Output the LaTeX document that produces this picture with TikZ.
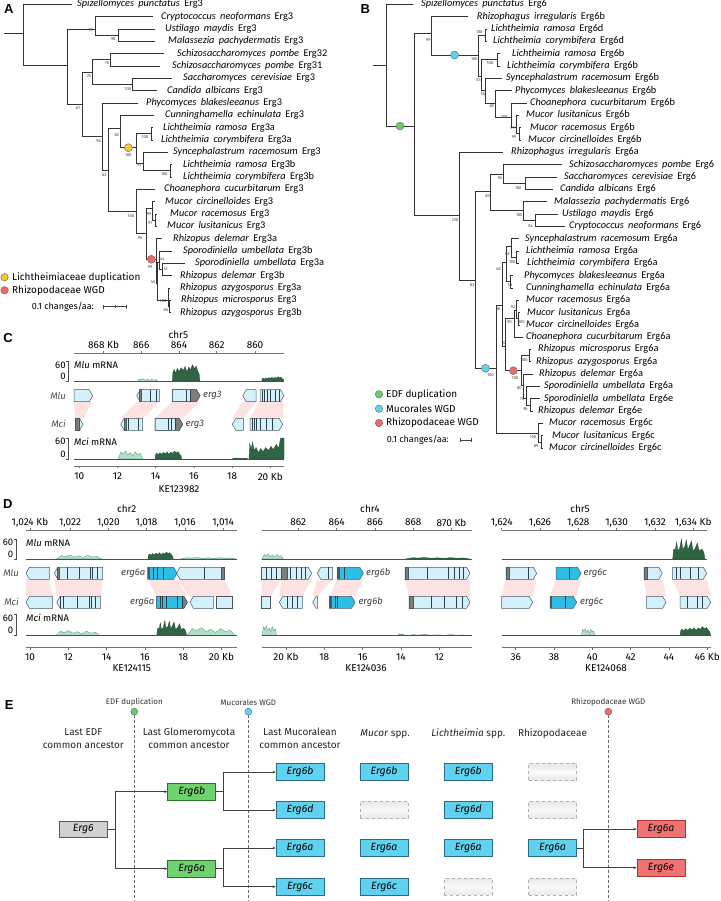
\documentclass[tikz,border=0pt]{standalone}
\usepackage{fontspec}
\setmainfont{Fira Sans}
\newfontfamily\treefont{Carlito}
\newfontfamily\panelfont{Liberation Sans}
\usetikzlibrary{calc, positioning, arrows.meta}

\definecolor{genefill}{RGB}{212,240,250}
\definecolor{genedraw}{RGB}{70,90,100}
\definecolor{geneblue}{RGB}{45,190,230}
\definecolor{genegray}{RGB}{125,125,125}
\definecolor{rnadark}{RGB}{48,100,68}
\definecolor{rnalight}{RGB}{178,222,202}
\definecolor{rnaline}{RGB}{95,150,120}
\definecolor{syntpink}{RGB}{253,226,226}
\definecolor{dupyellow}{RGB}{246,200,45}
\definecolor{dupred}{RGB}{240,105,105}
\definecolor{dupgreen}{RGB}{110,200,110}
\definecolor{dupblue}{RGB}{95,210,240}
\definecolor{boxcyan}{RGB}{95,210,240}
\definecolor{boxcyand}{RGB}{40,110,135}
\definecolor{boxgreen}{RGB}{110,210,110}
\definecolor{boxgreend}{RGB}{45,115,45}
\definecolor{boxred}{RGB}{240,115,115}
\definecolor{boxredd}{RGB}{175,50,50}

% gene arrows: [style] start, end, row y
\newcommand{\geneR}[4][genebody]{\filldraw[#1] (#2,#4-6) -- (#3-3.5,#4-6) -- (#3,#4) -- (#3-3.5,#4+6) -- (#2,#4+6) -- cycle;}
\newcommand{\geneL}[4][genebody]{\filldraw[#1] (#2+3.5,#4-6) -- (#3,#4-6) -- (#3,#4+6) -- (#2+3.5,#4+6) -- (#2,#4) -- cycle;}
% right gene with a gray tail from #5
\newcommand{\geneRg}[5][genebody]{%
  \geneR[#1]{#2}{#3}{#4}
  \begin{scope}
    \clip (#2,#4-6) -- (#3-3.5,#4-6) -- (#3,#4) -- (#3-3.5,#4+6) -- (#2,#4+6) -- cycle;
    \fill[genegray] (#5,#4-7) rectangle (#3+1,#4+7);
  \end{scope}
  \draw[genedraw, line width=0.5pt] (#2,#4-6) -- (#3-3.5,#4-6) -- (#3,#4) -- (#3-3.5,#4+6) -- (#2,#4+6) -- cycle;
  \draw[exon] (#5,#4-6) -- (#5,#4+6);}
\newcommand{\exons}[2]{\foreach \ux in {#2}{\draw[exon] (\ux,#1-6) -- (\ux,#1+6);}}
\newcommand{\gseg}[3]{\filldraw[genegrayseg] (#2,#1-6) rectangle (#3,#1+6);}
\newcommand{\dseg}[3]{\fill[genedraw] (#2,#1-6) rectangle (#3,#1+6);}
\newcommand{\synband}[6]{\fill[synt] (#1,#5) -- (#2,#5) -- (#4,#6) -- (#3,#6) -- cycle;}
% read coverage: start, end, base y, height, style
\newcommand{\covPlateau}[5]{\begin{scope}[shift={(#1,#3)},xscale={#2-#1},yscale={#4}]
  \filldraw[#5] (0,0) -- (0.02,-0.55) -- (0.07,-0.72) -- (0.12,-0.5) -- (0.18,-0.78) -- (0.25,-0.6) -- (0.32,-0.82) -- (0.4,-0.66) -- (0.46,-0.9) -- (0.52,-0.58) -- (0.6,-0.86) -- (0.66,-0.7) -- (0.73,-1) -- (0.8,-0.76) -- (0.86,-0.92) -- (0.92,-0.62) -- (0.97,-0.45) -- (1,0) -- cycle;
  \end{scope}}
\newcommand{\covHumps}[5]{\begin{scope}[shift={(#1,#3)},xscale={#2-#1},yscale={#4}]
  \filldraw[#5] (0,0) -- (0.05,-0.3) -- (0.12,-0.9) -- (0.2,-0.6) -- (0.3,-1) -- (0.4,-0.5) -- (0.5,-0.8) -- (0.6,-0.4) -- (0.7,-0.9) -- (0.8,-0.5) -- (0.9,-0.7) -- (1,0) -- cycle;
  \end{scope}}
\newcommand{\covSpikes}[5]{\begin{scope}[shift={(#1,#3)},xscale={#2-#1},yscale={#4}]
  \filldraw[#5] (0,0) -- (0.03,-0.5) -- (0.08,-0.45) -- (0.12,-0.85) -- (0.16,-0.4) -- (0.22,-0.55) -- (0.27,-1) -- (0.31,-0.5) -- (0.37,-0.6) -- (0.42,-0.95) -- (0.47,-0.45) -- (0.53,-0.7) -- (0.58,-0.9) -- (0.63,-0.4) -- (0.7,-0.55) -- (0.76,-0.8) -- (0.82,-0.4) -- (0.9,-0.5) -- (0.96,-0.35) -- (1,0) -- cycle;
  \end{scope}}
\newcommand{\covRise}[5]{\begin{scope}[shift={(#1,#3)},xscale={#2-#1},yscale={#4}]
  \filldraw[#5] (0,0) -- (0.02,-0.75) -- (0.06,-0.45) -- (0.1,-0.8) -- (0.15,-0.4) -- (0.2,-0.55) -- (0.27,-0.3) -- (0.33,-0.5) -- (0.4,-0.35) -- (0.48,-0.55) -- (0.55,-0.4) -- (0.63,-0.6) -- (0.7,-0.45) -- (0.78,-0.7) -- (0.85,-0.5) -- (0.9,-1) -- (1,-1) -- (1,0) -- cycle;
  \end{scope}}
% "60 ]" read scale: x, top, bottom
\newcommand{\rnascale}[3]{%
  \draw[scalebr] (#1-2,#2) -- (#1,#2) -- (#1,#3) -- (#1-2,#3);
  \node[numlab, anchor=east] at (#1-2.5,#2+3.6) {60};
  \node[numlab, anchor=east] at (#1-2.5,#3-5) {0};}
% tree tip text with wider word gaps
\newcommand{\tiptext}[2]{\spaceskip=0.42em plus 0.1em\relax\textit{#1} #2}

\begin{document}
\begin{tikzpicture}[x=1pt, y=-1pt,
    branch/.style={draw=black!80, line width=0.75pt},
    tiplab/.style={anchor=west, inner sep=0pt, text height=6.8pt, text depth=1.9pt,
      font=\treefont\fontsize{10.3}{11}\selectfont},
    boot/.style={inner sep=0pt, font=\fontsize{4.2}{5}\selectfont, text=black!75},
    dupdot/.style={circle, draw=black!60, line width=0.4pt, minimum size=8pt, inner sep=0pt, fill=#1},
    legtxt/.style={anchor=west, inner sep=0pt, font=\fontsize{10}{12}\selectfont},
    scaletxt/.style={anchor=west, inner sep=0pt, font=\fontsize{9}{11}\selectfont},
    scalebar/.style={draw=black!75, line width=0.5pt, {Bar[width=4pt]}-{Bar[width=4pt]}},
    panel/.style={inner sep=0pt, font=\panelfont\bfseries\fontsize{13}{13}\selectfont},
    axis/.style={draw=black!55, line width=0.6pt},
    axlab/.style={inner sep=0pt, font=\fontsize{10}{12}\selectfont},
    numlab/.style={inner sep=0pt, font=\fontsize{9.5}{11}\selectfont},
    tracklab/.style={anchor=west, inner sep=0pt, font=\fontsize{9.5}{11}\selectfont},
    rowlab/.style={anchor=east, inner sep=0pt, font=\itshape\fontsize{9.5}{11}\selectfont, text=black!70},
    genelab/.style={inner sep=0pt, font=\itshape\fontsize{9.5}{11}\selectfont, text=black!75},
    genebody/.style={fill=genefill, draw=genedraw, line width=0.5pt},
    geneerg/.style={fill=geneblue, draw=genedraw, line width=0.5pt},
    genegrayseg/.style={fill=genegray, draw=genedraw, line width=0.5pt},
    exon/.style={draw=genedraw!70!black, line width=0.7pt},
    synt/.style={fill=syntpink},
    rnaD/.style={fill=rnadark, draw=rnadark!80!black, line width=0.3pt},
    rnaL/.style={fill=rnalight, draw=rnaline, line width=0.3pt},
    baseline/.style={draw=black!70, line width=0.5pt},
    scalebr/.style={draw=black!70, line width=0.5pt},
    evlab/.style={inner sep=0pt, font=\fontsize{8}{9}\selectfont, text=black!80},
    evline/.style={draw=black!60, dash pattern=on 3pt off 2pt, line width=0.5pt},
    hdr/.style={align=center, inner sep=0pt, font=\fontsize{10}{13.3}\selectfont, text=black!85},
    ebox/.style={minimum width=48pt, minimum height=16.5pt, inner sep=0pt, line width=0.6pt,
      font=\itshape\fontsize{10.5}{12}\selectfont},
    boxgray/.style={ebox, fill=black!18, draw=black!65},
    boxgreen/.style={ebox, fill=boxgreen, draw=boxgreend},
    boxcyan/.style={ebox, fill=boxcyan, draw=boxcyand},
    boxred/.style={ebox, fill=boxred, draw=boxredd},
    boxnone/.style={ebox, draw=black!30, dashed, top color=black!9, bottom color=black!9, middle color=black!2},
    conn/.style={draw=black!75, line width=0.6pt},
    arr/.style={conn, -{Stealth[length=3.2pt,width=2.6pt]}}
  ]
  \useasboundingbox (0,0) rectangle (720,901);
  \fill[white] (0,0) rectangle (720,901);

  % ================= A: Erg3 tree =================
  \node[panel] (labA) at (8.7,9.2) {A};
  \foreach \n/\tx/\lx/\r/\spc/\gnm in {
      a0/71.7/77/0/Spizellomyces punctatus/Erg3,
      a1/153/161/1/Cryptococcus neoformans/Erg3,
      a2/155/165/2/Ustilago maydis/Erg3,
      a3/155/168/3/Malassezia pachydermatis/Erg3,
      a4/164/177/4/Schizosaccharomyces pombe/Erg32,
      a5/160/172/5/Schizosaccharomyces pombe/Erg31,
      a6/172/183/6/Saccharomyces cerevisiae/Erg3,
      a7/157/167/7/Candida albicans/Erg3,
      a8/138/146/8/Phycomyces blakesleeanus/Erg3,
      a9/154/165/9/Cunninghamella echinulata/Erg3,
      a10/153/163/10/Lichtheimia ramosa/Erg3a,
      a11/153/161/11/Lichtheimia corymbifera/Erg3a,
      a12/168/173/12/Syncephalastrum racemosum/Erg3,
      a13/172/183/13/Lichtheimia ramosa/Erg3b,
      a14/172/183/14/Lichtheimia corymbifera/Erg3b,
      a15/155/164/15/Choanephora cucurbitarum/Erg3,
      a16/155/165/16/Mucor circinelloides/Erg3,
      a17/157/170/17/Mucor racemosus/Erg3,
      a18/157/167/18/Mucor lusitanicus/Erg3,
      a19/162/173/19/Rhizopus delemar/Erg3a,
      a20/172/183/20/Sporodiniella umbellata/Erg3b,
      a21/185/195/21/Sporodiniella umbellata/Erg3a,
      a22/172/180/22/Rhizopus delemar/Erg3b,
      a23/170/180/23/Rhizopus azygosporus/Erg3a,
      a24/171/181/24/Rhizopus microsporus/Erg3,
      a25/171/180/25/Rhizopus azygosporus/Erg3b}{
    \coordinate (\n) at (\tx,{4.3+12.33*\r});
    \node[tiplab] (\n-lab) at (\lx,{4.3+12.33*\r}) {\tiptext{\spc}{\gnm}};
  }
  \foreach \n/\x/\y in {r0/23/33.3, n1/67.7/65, n2/95/29, n2b/118/35.1, n3/82/104,
      n4/92/72, n4a/110/59.8, n4b/132/84.4, n5/102/136.7, n6/108.7/170, n7/120/128.3,
      n8/136.7/147.7, n9/151/133.8, n10/143.3/163, n10b/170/170.8, n11/136.7/211.7,
      n12/146.7/233, n13/152.7/208, n13b/155/220.1, r1/156/259.3, r2/157.7/283,
      r3/159.3/262, r4/162/269.4, r5/168/300, r6/169.5/306.4}
    \coordinate (\n) at (\x,\y);
  \coordinate (rootA) at (4,33.3);
  \draw[branch] (rootA) -- (r0);
  \foreach \pa/\ch in {r0/a0, r0/n1, n1/n2, n1/n3, n2/a1, n2/n2b, n2b/a2, n2b/a3,
      n3/n4, n3/n5, n4/n4a, n4/n4b, n4a/a4, n4a/a5, n4b/a6, n4b/a7, n5/a8, n5/n6,
      n6/n7, n6/n11, n7/a9, n7/n8, n8/n9, n8/n10, n9/a10, n9/a11, n10/a12, n10/n10b,
      n10b/a13, n10b/a14, n11/a15, n11/n12, n12/n13, n12/r1, n13/a16, n13/n13b,
      n13b/a17, n13b/a18, r1/a19, r1/r2, r2/r3, r2/r5, r3/a20, r3/r4, r4/a21, r4/a22,
      r5/a23, r5/r6, r6/a24, r6/a25}
    \draw[branch] (\pa) |- (\ch);
  \foreach \x/\y/\v in {90.7/30.5/99, 113.3/39/98, 107/63/76, 89/76/75, 128/89/100,
      78/108.3/61, 98.7/141/96, 116.7/135/82, 128.3/155/100, 145/137/100, 104.3/175/62,
      139.3/165/91, 164.3/174.3/100, 131/216/100, 149/214/99, 150/223/91, 140/238/95,
      150/267/99, 162.3/259.3/44, 165.7/269/41, 153/282/45, 163/301/100, 166/310/86}
    \node[boot] at (\x,\y) {\v};
  \node[dupdot=dupyellow] (dupLich) at ($(n7 |- n8)!0.5!(n8)$) {};
  \node[dupdot=dupred] (wgdRhiA) at ($(n12 |- r1)!0.5!(r1)$) {};
  % legend A
  \node[dupdot=dupyellow, minimum size=7.5pt] (legA1) at (4.5,277.3) {};
  \node[legtxt, right=3.5pt of legA1] {Lichtheimiaceae duplication};
  \node[dupdot=dupred, minimum size=7.5pt] (legA2) at (4.5,290.3) {};
  \node[legtxt, right=3.5pt of legA2] {Rhizopodaceae WGD};
  \node[scaletxt] at (31.7,306.7) {0.1 changes/aa:};
  \coordinate (sbA1) at (103.3,306.7);
  \coordinate (sbA2) at (126.7,306.7);
  \draw[scalebar] (sbA1) -- (sbA2);
  \draw[scalebr] ($(sbA1)!0.5!(sbA2)+(0,-1.5)$) -- ++(0,3);

  % ================= B: Erg6 tree =================
  \node[panel] (labB) at (365.3,8.8) {B};
  \foreach \n/\tx/\lx/\r/\spc/\gnm in {
      b0/413.3/421/0/Spizellomyces punctatus/Erg6,
      b1/468.3/476.7/1/Rhizophagus irregularis/Erg6b,
      b2/487/491/2/Lichtheimia ramosa/Erg6d,
      b3/487/493/3/Lichtheimia corymbifera/Erg6d,
      b4/500/512/4/Lichtheimia ramosa/Erg6b,
      b5/500/507/5/Lichtheimia corymbifera/Erg6b,
      b6/501.7/506/6/Syncephalastrum racemosum/Erg6b,
      b7/511.7/515/7/Phycomyces blakesleeanus/Erg6b,
      b8/526.7/530/8/Choanephora cucurbitarum/Erg6b,
      b9/519/526/9/Mucor lusitanicus/Erg6b,
      b10/521/530/10/Mucor racemosus/Erg6b,
      b11/521/528/11/Mucor circinelloides/Erg6b,
      b12/503.3/511/12/Rhizophagus irregularis/Erg6a,
      b13/561.7/569/13/Schizosaccharomyces pombe/Erg6,
      b14/556.7/564/14/Saccharomyces cerevisiae/Erg6,
      b15/553/560/15/Candida albicans/Erg6,
      b16/546.7/554/16/Malassezia pachydermatis/Erg6,
      b17/558.3/562/17/Ustilago maydis/Erg6,
      b18/565/569/18/Cryptococcus neoformans/Erg6,
      b19/519.3/525/19/Syncephalastrum racemosum/Erg6a,
      b20/518.5/526/20/Lichtheimia ramosa/Erg6a,
      b21/518.5/527/21/Lichtheimia corymbifera/Erg6a,
      b22/513.3/524/22/Phycomyces blakesleeanus/Erg6a,
      b23/513.3/526/23/Cunninghamella echinulata/Erg6a,
      b24/519/526/24/Mucor racemosus/Erg6a,
      b25/520/527/25/Mucor lusitanicus/Erg6a,
      b26/520/526/26/Mucor circinelloides/Erg6a,
      b27/523.3/526/27/Choanephora cucurbitarum/Erg6a,
      b28/531/538/28/Rhizopus microsporus/Erg6a,
      b29/531/536/29/Rhizopus azygosporus/Erg6a,
      b30/532.7/539/30/Rhizopus delemar/Erg6a,
      b31/540/544/31/Sporodiniella umbellata/Erg6a,
      b32/540/544/32/Sporodiniella umbellata/Erg6e,
      b33/532.7/538/33/Rhizopus delemar/Erg6e,
      b34/542.7/549/34/Mucor racemosus/Erg6c,
      b35/543.3/552/35/Mucor lusitanicus/Erg6c,
      b36/543.3/549/36/Mucor circinelloides/Erg6c}{
    \coordinate (\n) at (\tx,{4.3+12.33*\r});
    \node[tiplab] (\n-lab) at (\lx,{4.3+12.33*\r}) {\tiptext{\spc}{\gnm}};
  }
  \foreach \n/\x/\y in {qroot/386/65, qedf/414/126, qm1/431/33.3, qwb/478.3/55,
      qd/485/35.1, qc1/481/76, qlb/497.3/59.8, qc2/485/90, qc3/495/103, qc4/511.7/117,
      qc5/516/127, qc6/519/133.8, qg6/459.3/215.7, qg7/475/280, qdk/490/191.7,
      qyy/503.3/174, qsc/525/183.1, qbs/523/210, quc/535/220.1, qwa/496/368.3,
      qa6/502.7/305, qlc/506.7/262, qsl/511/246.7, qlr/516/257.1, qpc/510/281.7,
      qmc/505.7/346.7, qmu/514/318, qmm/516.7/310, qmm2/518.5/318.7, qrz/521/370.7,
      qrm/529/355.7, qrq/523/385, qrs/526/398, qrs2/530/405, qcc/538/433, qcc2/541.7/442}
    \coordinate (\n) at (\x,\y);
  \coordinate (rootB) at (373,65);
  \draw[branch] (rootB) -- (qroot);
  \foreach \pa/\ch in {qroot/b0, qroot/qedf, qedf/qm1, qedf/qg6, qm1/b1, qm1/qwb,
      qwb/qd, qwb/qc1, qd/b2, qd/b3, qc1/qlb, qc1/qc2, qlb/b4, qlb/b5, qc2/b6, qc2/qc3,
      qc3/b7, qc3/qc4, qc4/b8, qc4/qc5, qc5/b9, qc5/qc6, qc6/b10, qc6/b11, qg6/b12,
      qg6/qg7, qg7/qdk, qg7/qwa, qdk/qyy, qdk/qbs, qyy/b13, qyy/qsc, qsc/b14, qsc/b15,
      qbs/b16, qbs/quc, quc/b17, quc/b18, qwa/qa6, qwa/qcc, qa6/qlc, qa6/qmc, qlc/qsl,
      qlc/qpc, qsl/b19, qsl/qlr, qlr/b20, qlr/b21, qpc/b22, qpc/b23, qmc/qmu, qmc/qrz,
      qmu/qmm, qmu/b27, qmm/b24, qmm/qmm2, qmm2/b25, qmm2/b26, qrz/qrm, qrz/qrq,
      qrm/b28, qrm/b29, qrq/b30, qrq/qrs, qrs/b31, qrs/qrs2, qrs2/b32, qrs2/b33,
      qcc/b34, qcc/qcc2, qcc2/b35, qcc2/b36}
    \draw[branch] (\pa) |- (\ch);
  \foreach \x/\y/\v in {428.3/40/99, 474.3/59.5/100, 479.3/32/100, 490/63.3/100,
      478.5/80/55, 483/94/55, 491.7/106.5/69, 504.3/117.3/100, 512.5/128.5/99,
      514/136.7/99, 455/220/100, 472/285/83, 487.5/196.5/89, 500/178.3/94,
      518.3/187.7/100, 519.3/215/100, 530.7/226/84, 507.3/254/98, 512.3/262.3/100,
      498.3/269/48, 510/285/58, 498/309/96, 513/307/92, 521.5/322/100, 509.5/322/90,
      504/343/92, 524.3/360/100, 515/378/100, 519.5/388.5/80, 522.3/399.3/70,
      525.5/409/96, 533/437/100, 536/446/89, 490.5/375/100}
    \node[boot] at (\x,\y) {\v};
  \node[dupdot=dupgreen] (dupEDF) at ($(qroot |- qedf)!0.5!(qedf)$) {};
  \node[dupdot=dupblue] (wgdMucB) at ($(qm1 |- qwb)!0.5!(qwb)$) {};
  \node[dupdot=dupblue] (wgdMucA) at ($(qg7 |- qwa)!0.5!(qwa)$) {};
  \node[dupdot=dupred] (wgdRhiB) at ($(qmc |- qrz)!0.5!(qrz)$) {};
  % legend B
  \node[dupdot=dupgreen, minimum size=7.5pt] (legB1) at (379,394.3) {};
  \node[legtxt, right=3pt of legB1] {EDF duplication};
  \node[dupdot=dupblue, minimum size=7.5pt] (legB2) at (379,408.7) {};
  \node[legtxt, right=3pt of legB2] {Mucorales WGD};
  \node[dupdot=dupred, minimum size=7.5pt] (legB3) at (379,423) {};
  \node[legtxt, right=3pt of legB3] {Rhizopodaceae WGD};
  \node[scaletxt] at (386.7,440) {0.1 changes/aa:};
  \coordinate (sbB1) at (460,440);
  \coordinate (sbB2) at (471.7,440);
  \draw[scalebar] (sbB1) -- (sbB2);

  % ================= C: erg3 locus =================
  \node[panel] (labC) at (8,337.7) {C};
  \node[axlab] (chrC) at (178.3,335) {chr5};
  \draw[axis] (74,353.3) -- (284,353.3);
  \foreach \x/\lab in {103.6/868 Kb, 141.3/866, 179/864, 216.7/862, 255/860}{
    \draw[axis] (\x,353.3) -- (\x,351);
    \node[axlab] at (\x,345) {\lab};
  }
  \rnascale{68.3}{361.7}{381.7}
  \node[tracklab] at (74,365) {\textit{Mlu} mRNA};
  \covHumps{136.7}{158.3}{381.7}{3}{rnaL}
  \covPlateau{172.3}{200}{381.7}{17}{rnaD}
  \covPlateau{261.7}{284}{381.7}{5}{rnaD}
  \draw[baseline] (74,381.7) -- (284,381.7);
  % synteny
  \synband{74}{92.7}{75.3}{83}{401.7}{418.3}
  \synband{136.7}{159.3}{120.7}{142.7}{401.7}{418.3}
  \synband{172.3}{200}{155}{182.7}{401.7}{418.3}
  \synband{242.7}{256}{232.3}{243.3}{401.7}{418.3}
  \synband{260}{284}{250}{282.7}{401.7}{418.3}
  % Mlu genes
  \node[rowlab] at (66,395.7) {Mlu};
  \geneR{74}{92.7}{395.7}
  \geneL{136.7}{159.3}{395.7} \gseg{395.7}{139.5}{141.5} \exons{395.7}{150,156}
  \geneRg{172.3}{200}{395.7}{190} \exons{395.7}{186}
  \node[genelab, anchor=west] at (203,395.7) {erg3};
  \geneL{242.7}{256}{395.7}
  \geneR{260}{284}{395.7} \exons{395.7}{262.5,264.5,267,270,275,279}
  % Mci genes
  \node[rowlab] at (66,424.3) {Mci};
  \geneR{75.3}{83}{424.3} \gseg{424.3}{75.3}{79.5}
  \geneL{120.7}{142.7}{424.3} \gseg{424.3}{124.5}{126.5} \exons{424.3}{128,138}
  \geneRg{155}{182.7}{424.3}{175} \exons{424.3}{168,171.5}
  \node[genelab, anchor=west] at (185.5,424.3) {erg3};
  \geneL{232.3}{243.3}{424.3}
  \geneR{250}{282.7}{424.3} \exons{424.3}{252,254,256,260,266,272}
  \rnascale{68.3}{438}{459}
  \node[tracklab] at (74,442.3) {\textit{Mci} mRNA};
  \covHumps{118}{142.7}{459}{8}{rnaL}
  \covPlateau{155}{181.7}{459}{8}{rnaD}
  \covHumps{232}{248}{459}{1}{rnaD}
  \covRise{249}{284}{459}{21}{rnaD}
  \draw[baseline] (74,459) -- (284,459);
  \draw[axis] (74,466) -- (284,466);
  \foreach \x/\lab in {79.3/10, 117.5/12, 155.7/14, 193.9/16, 232.1/18, 270.3/20 Kb}{
    \draw[axis] (\x,466) -- (\x,468.3);
    \node[axlab] at (\x,476.5) {\lab};
  }
  \node[axlab] (ctgC) at (179,489.3) {KE123982};

  % ================= D: erg6 loci =================
  \node[panel] (labD) at (7.7,504) {D};
  % --- KE124115 / chr2
  \node[axlab] at (126.7,509) {chr2};
  \draw[axis] (26,530) -- (236.7,530);
  \foreach \x/\lab in {30/{1,024 Kb}, 70/{1,022}, 108.3/{1,020}, 146.6/{1,018}, 184.9/{1,016}, 223.2/{1,014}}{
    \draw[axis] (\x,530) -- (\x,527.7);
    \node[axlab] at (\x,522.5) {\lab};
  }
  \rnascale{16}{539}{559}
  \node[tracklab] at (26,543.3) {\textit{Mlu} mRNA};
  \covHumps{56}{101.7}{559}{4}{rnaL}
  \covPlateau{148}{173.3}{559}{7}{rnaD}
  \covHumps{180}{236}{559}{1.5}{rnaL}
  \draw[baseline] (26,559) -- (236.7,559);
  \synband{26}{49.3}{26}{52.7}{579.3}{596.3}
  \synband{54.3}{102.7}{56.7}{100.7}{579.3}{596.3}
  \synband{147.7}{176.7}{156.7}{187.3}{579.3}{596.3}
  \synband{177}{224}{190}{232.7}{579.3}{596.3}
  \node[rowlab] at (19,573.3) {Mlu};
  \geneL{26}{49.3}{573.3}
  \geneL{54.3}{102.7}{573.3} \gseg{573.3}{57}{59} \exons{573.3}{67,79,90,92.5,97}
  \node[genelab, anchor=east] at (145.5,573.3) {erg6a};
  \geneR[geneerg]{147.7}{177}{573.3} \dseg{573.3}{147.7}{149.7} \exons{573.3}{153,157,163}
  \geneL{176.5}{224}{573.3} \gseg{573.3}{221}{224} \exons{573.3}{204}
  \node[rowlab] at (19,602.3) {Mci};
  \geneL{26}{52.7}{602.3}
  \geneL{56.7}{100.7}{602.3} \exons{602.3}{60,63,77,89,91,95}
  \node[genelab, anchor=east] at (154.5,602.3) {erg6a};
  \geneRg[geneerg]{156.7}{187.3}{602.3}{182} \exons{602.3}{160,162,166,177}
  \geneL{190}{213.3}{602.3}
  \filldraw[genebody] (216,596.3) rectangle (232.7,608.3);
  \rnascale{16}{614.5}{635.7}
  \node[tracklab] at (26,618.3) {\textit{Mci} mRNA};
  \covHumps{55}{100}{635.7}{5}{rnaL}
  \covSpikes{156.7}{186.7}{635.7}{15}{rnaD}
  \covHumps{186.7}{235}{635.7}{8}{rnaL}
  \draw[baseline] (26,635.7) -- (236.7,635.7);
  \draw[axis] (26,647.7) -- (236.7,647.7);
  \foreach \x/\lab in {30/10, 68.3/12, 106.6/14, 144.9/16, 183.2/18, 221.5/20 Kb}{
    \draw[axis] (\x,647.7) -- (\x,650);
    \node[axlab] at (\x,657) {\lab};
  }
  \node[axlab] at (131.7,668.5) {KE124115};
  % --- KE124036 / chr4
  \node[axlab] at (370,509) {chr4};
  \draw[axis] (261.7,530) -- (471.7,530);
  \foreach \x/\lab in {298.3/862, 336.6/864, 374.9/866, 413.2/868, 451.5/870 Kb}{
    \draw[axis] (\x,530) -- (\x,527.7);
    \node[axlab] at (\x,522.5) {\lab};
  }
  \covHumps{261.7}{283.3}{559}{5}{rnaL}
  \covHumps{405}{470}{559}{1.5}{rnaD}
  \draw[baseline] (261.7,559) -- (471.7,559);
  \synband{261.7}{281.7}{261.7}{270.7}{579.3}{596.3}
  \synband{281.7}{311.7}{279.3}{302.3}{579.3}{596.3}
  \synband{317.3}{332.7}{312.7}{317.3}{579.3}{596.3}
  \synband{337.3}{363.3}{329.3}{355}{579.3}{596.3}
  \synband{405}{470}{409}{470}{579.3}{596.3}
  \filldraw[genebody] (261.7,567.3) rectangle (281.7,579.3); \exons{573.3}{266,271,276}
  \geneR{281.7}{311.7}{573.3} \gseg{573.3}{281.7}{287} \exons{573.3}{290,296,301,305}
  \geneL{317.3}{332.7}{573.3} \exons{573.3}{328}
  \geneR[geneerg]{337.3}{363.3}{573.3} \dseg{573.3}{337.3}{339.5} \exons{573.3}{344}
  \node[genelab, anchor=west] at (366,573.3) {erg6b};
  \geneR{405}{470}{573.3} \gseg{573.3}{405}{408} \exons{573.3}{427,448,454,459,463}
  \filldraw[genebody] (261.7,596.3) rectangle (270.7,608.3);
  \geneL{279.3}{302.3}{602.3} \exons{602.3}{287,292,297}
  \geneL{312.7}{317.3}{602.3}
  \geneR[geneerg]{329.3}{355}{602.3} \dseg{602.3}{329.3}{331.5} \exons{602.3}{335,337}
  \node[genelab, anchor=west] at (358.3,602.3) {erg6b};
  \geneR{409}{470}{602.3} \gseg{602.3}{409}{413} \exons{602.3}{431,444,456,462}
  \covHumps{261.7}{276.7}{635.7}{10}{rnaL}
  \covHumps{398}{404}{635.7}{2}{rnaL}
  \covHumps{405}{470}{635.7}{1}{rnaD}
  \draw[baseline] (261.7,635.7) -- (471.7,635.7);
  \draw[axis] (261.7,647.7) -- (471.7,647.7);
  \foreach \x/\lab in {286/20 Kb, 324.3/18, 362.6/16, 400.9/14, 439.2/12}{
    \draw[axis] (\x,647.7) -- (\x,650);
    \node[axlab] at (\x,657) {\lab};
  }
  \node[axlab] at (366,668.5) {KE124036};
  % --- KE124068 / chr5
  \node[axlab] at (580,509) {chr5};
  \draw[axis] (501.7,530) -- (706.7,530);
  \foreach \x/\lab in {501.7/{1,624}, 540/{1,626}, 578.3/{1,628}, 616.6/{1,630}, 654.9/{1,632}, 693.2/{1,634 Kb}}{
    \draw[axis] (\x,530) -- (\x,527.7);
    \node[axlab] at (\x,522.5) {\lab};
  }
  \covSpikes{672.7}{705}{559}{20}{rnaD}
  \draw[baseline] (501.7,559) -- (706.7,559);
  \synband{506}{536.7}{501.7}{532.7}{579.3}{596.3}
  \synband{556}{581}{550}{576.7}{579.3}{596.3}
  \synband{644}{662.3}{646.7}{666}{579.3}{596.3}
  \synband{672.7}{706.7}{680}{710.7}{579.3}{596.3}
  \geneR{506}{536.7}{573.3} \gseg{573.3}{506}{509.5} \exons{573.3}{528}
  \geneR[geneerg]{556}{581}{573.3} \exons{573.3}{569}
  \node[genelab, anchor=west] at (583.5,573.3) {erg6c};
  \geneR{644}{662.3}{573.3} \gseg{573.3}{644}{647.5}
  \geneR{672.7}{706.7}{573.3} \exons{573.3}{676,680,690,698}
  \geneR{501.7}{532.7}{602.3}
  \geneR[geneerg]{550}{576.7}{602.3} \dseg{602.3}{550}{551.8} \exons{602.3}{565}
  \node[genelab, anchor=west] at (580,602.3) {erg6c};
  \geneR{646.7}{666}{602.3}
  \geneR{680}{710.7}{602.3} \exons{602.3}{687,697,702}
  \covHumps{581}{595}{635.7}{7}{rnaL}
  \covPlateau{680}{710.7}{635.7}{9}{rnaD}
  \draw[baseline] (501.7,635.7) -- (711,635.7);
  \draw[axis] (501.7,647.7) -- (711,647.7);
  \foreach \x/\lab in {515.7/36, 554/38, 592.3/40, 630.6/42, 668.9/44, 707.2/46 Kb}{
    \draw[axis] (\x,647.7) -- (\x,650);
    \node[axlab] at (\x,657) {\lab};
  }
  \node[axlab] at (606,668.5) {KE124068};

  % ================= E: model of Erg6 history =================
  \node[panel] (labE) at (9.2,705) {E};
  % events
  \node[dupdot=dupgreen, minimum size=7pt] (evEDF) at (134.3,711.7) {};
  \node[evlab, above=2pt of evEDF] {EDF duplication};
  \node[dupdot=dupblue, minimum size=7pt] (evMuc) at (248.3,711.7) {};
  \node[evlab, above=2pt of evMuc] {Mucorales WGD};
  \node[dupdot=dupred, minimum size=7pt] (evRhi) at (608.3,711.7) {};
  \node[evlab, above=2pt of evRhi] {Rhizopodaceae WGD};
  \coordinate (evEDFend) at (134.3,901);
  \coordinate (evMucend) at (248.3,901);
  \coordinate (evRhiend) at (608.3,901);
  \draw[evline] (evEDF) -- (evEDFend);
  \draw[evline] (evMuc) -- (evMucend);
  \draw[evline] (evRhi) -- (evRhiend);
  % column heads
  \node[hdr] at (83.3,738.3) {Last EDF\\common ancestor};
  \node[hdr] at (189,738.3) {Last Glomeromycota\\common ancestor};
  \node[hdr] at (300,738.3) {Last Mucoralean\\common ancestor};
  \node[hdr] at (385,734) {\textit{Mucor} spp.};
  \node[hdr] at (468.3,734) {\textit{Lichtheimia} spp.};
  \node[hdr] at (552.5,734) {Rhizopodaceae};
  % gene boxes
  \node[boxgray] (Eerg6) at (83.3,829.3) {Erg6};
  \node[boxgreen] (Eg6b) at (191.7,791.7) {Erg6b};
  \node[boxgreen] (Eg6a) at (191.7,868.7) {Erg6a};
  \node[boxcyan] (Em6b) at (300,772) {Erg6b};
  \node[boxcyan] (Em6d) at (300,810) {Erg6d};
  \node[boxcyan] (Em6a) at (300,848) {Erg6a};
  \node[boxcyan] (Em6c) at (300,886.7) {Erg6c};
  \node[boxcyan] (Emu6b) at (384,772) {Erg6b};
  \node[boxnone] (Emu6d) at (384,810) {};
  \node[boxcyan] (Emu6a) at (384,848) {Erg6a};
  \node[boxcyan] (Emu6c) at (384,886.7) {Erg6c};
  \node[boxcyan] (Eli6b) at (468.3,772) {Erg6b};
  \node[boxcyan] (Eli6d) at (468.3,810) {Erg6d};
  \node[boxcyan] (Eli6a) at (468.3,848) {Erg6a};
  \node[boxnone] (Eli6c) at (468.3,886.7) {};
  \node[boxnone] (Erh6b) at (552.5,772) {};
  \node[boxnone] (Erh6d) at (552.5,810) {};
  \node[boxcyan] (Erh6a) at (552.5,848) {Erg6a};
  \node[boxnone] (Erh6c) at (552.5,886.7) {};
  \node[boxred] (Erz6a) at (661,829) {Erg6a};
  \node[boxred] (Erz6e) at (661,867.7) {Erg6e};
  % forks
  \coordinate (Ef0) at ($(Eerg6.east)+(7.7,0)$);
  \draw[conn] (Eerg6) -- (Ef0);
  \draw[arr] (Ef0) |- (Eg6b);
  \draw[arr] (Ef0) |- (Eg6a);
  \coordinate (Ef1) at ($(Eg6b.east)+(7,0)$);
  \draw[conn] (Eg6b) -- (Ef1);
  \draw[arr] (Ef1) |- (Em6b);
  \draw[arr] (Ef1) |- (Em6d);
  \coordinate (Ef2) at ($(Eg6a.east)+(7,0)$);
  \draw[conn] (Eg6a) -- (Ef2);
  \draw[arr] (Ef2) |- (Em6a);
  \draw[arr] (Ef2) |- (Em6c);
  \coordinate (Ef3) at ($(Erh6a.east)+(6,0)$);
  \draw[conn] (Erh6a) -- (Ef3);
  \draw[arr] (Ef3) |- (Erz6a);
  \draw[arr] (Ef3) |- (Erz6e);
\end{tikzpicture}
\end{document}
